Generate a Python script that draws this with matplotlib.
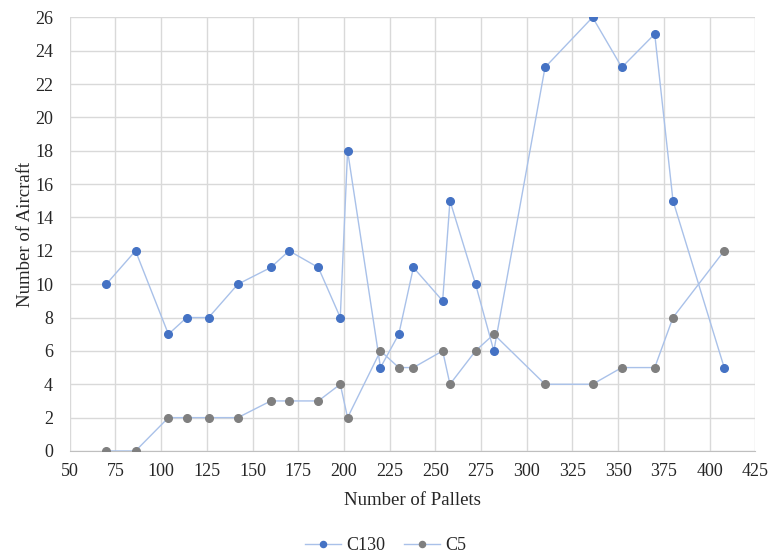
import matplotlib
matplotlib.use("Agg")
import matplotlib.pyplot as plt

plt.rcParams['font.family'] = ['Liberation Serif', 'DejaVu Serif']

pallets = [70, 86, 104, 114, 126, 142, 160, 170, 186, 198, 202, 220,
           230, 238, 254, 258, 272, 282, 310, 336, 352, 370, 380, 408]
c130 = [10, 12, 7, 8, 8, 10, 11, 12, 11, 8, 18, 5,
        7, 11, 9, 15, 10, 6, 23, 26, 23, 25, 15, 5]
c5 = [0, 0, 2, 2, 2, 2, 3, 3, 3, 4, 2, 6,
      5, 5, 6, 4, 6, 7, 4, 4, 5, 5, 8, 12]

line_col = '#a9c1e9'
txt = '#262626'

fig = plt.figure(figsize=(7.71, 5.58), dpi=100)
ax = fig.add_axes([0.0904, 0.1918, 0.8892, 0.7772])

ax.plot(pallets, c130, color=line_col, lw=1.0, marker='o', ms=5.5,
        mfc='#4472c4', mec='#4472c4', label='C130', zorder=3)
ax.plot(pallets, c5, color=line_col, lw=1.0, marker='o', ms=5.5,
        mfc='#7f7f7f', mec='#7f7f7f', label='C5', zorder=3)

ax.set_xlim(50, 425)
ax.set_ylim(0, 26)
ax.set_xticks(range(50, 426, 25))
ax.set_yticks(range(0, 27, 2))
ax.grid(True, color='#d9d9d9', lw=1.0)
ax.set_axisbelow(True)
for s in ['top', 'right', 'left']:
    ax.spines[s].set_visible(False)
ax.spines['bottom'].set_color('#bfbfbf')
ax.tick_params(axis='x', length=0, labelsize=13, colors=txt, pad=9)
ax.tick_params(axis='y', length=0, labelsize=13, colors=txt, pad=12)

ax.set_xlabel('Number of Pallets', fontsize=13.5, color=txt, labelpad=8)
ax.set_ylabel('Number of Aircraft', fontsize=13.5, color=txt, labelpad=1)

fig.legend(loc='lower center', bbox_to_anchor=(0.5, -0.022), ncol=2, frameon=False,
           fontsize=13, handlelength=2, columnspacing=1.0, handletextpad=0.3,
           labelcolor=txt, markerscale=0.8)

fig.savefig('out.png', dpi=100)
